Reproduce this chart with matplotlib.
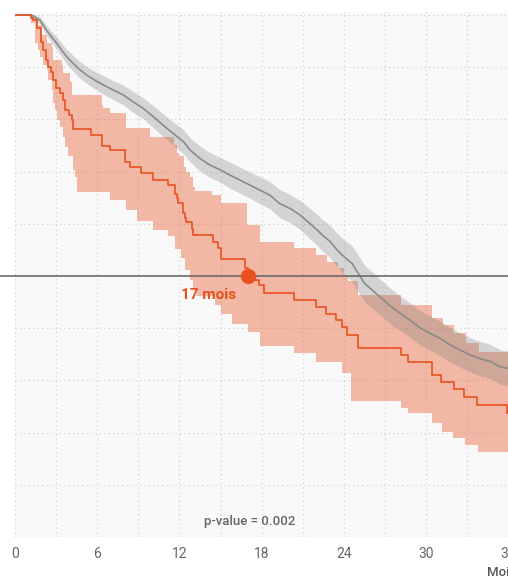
import matplotlib
matplotlib.use("Agg")
import matplotlib.pyplot as plt
import numpy as np

plt.rcParams['font.family'] = ['Roboto', 'DejaVu Sans']

# reference group (grey)
ref_t = [0, 1.2, 1.82, 2.19, 2.55, 3.04, 3.4, 3.77, 4.26, 4.74, 5.23, 5.84, 6.45, 7.18, 7.9,
         8.6, 9.36, 10.1, 10.8, 11.55, 12.3, 12.8, 13.5, 14.2, 15.0, 15.7, 16.4, 17.15, 17.9,
         18.6, 19.3, 20.1, 20.8, 21.5, 22.1, 22.4, 23.0, 23.5, 24.0, 24.6, 24.9, 25.2, 25.5,
         26.2, 26.9, 27.6, 28.3, 28.8, 29.6, 30.3, 31.0, 31.75, 32.5, 33.2, 33.9, 34.7, 35.4,
         36.0, 37.0]
ref_s = [1.0, 1.0, 0.990, 0.975, 0.962, 0.946, 0.933, 0.920, 0.907, 0.895, 0.885, 0.875, 0.866,
         0.856, 0.847, 0.834, 0.821, 0.805, 0.789, 0.773, 0.757, 0.741, 0.725, 0.713, 0.703,
         0.693, 0.684, 0.674, 0.664, 0.655, 0.639, 0.629, 0.617, 0.601, 0.587, 0.579, 0.566,
         0.550, 0.537, 0.524, 0.511, 0.499, 0.486, 0.470, 0.454, 0.438, 0.425, 0.416, 0.400,
         0.390, 0.381, 0.368, 0.358, 0.349, 0.342, 0.336, 0.326, 0.323, 0.320]
ref_hi = [1.0, 1.0, 0.997, 0.984, 0.972, 0.958, 0.946, 0.934, 0.922, 0.911, 0.901, 0.892, 0.884,
          0.874, 0.866, 0.854, 0.841, 0.826, 0.811, 0.795, 0.780, 0.764, 0.749, 0.737, 0.727,
          0.718, 0.709, 0.699, 0.690, 0.681, 0.666, 0.656, 0.645, 0.630, 0.617, 0.609, 0.597,
          0.582, 0.570, 0.558, 0.546, 0.534, 0.521, 0.505, 0.488, 0.472, 0.458, 0.449, 0.433,
          0.423, 0.414, 0.401, 0.391, 0.382, 0.375, 0.369, 0.359, 0.356, 0.353]
ref_lo = [1.0, 1.0, 0.983, 0.966, 0.952, 0.934, 0.920, 0.906, 0.892, 0.879, 0.869, 0.858, 0.848,
          0.838, 0.828, 0.814, 0.801, 0.784, 0.767, 0.751, 0.734, 0.718, 0.701, 0.689, 0.679,
          0.668, 0.659, 0.649, 0.638, 0.629, 0.612, 0.602, 0.589, 0.572, 0.557, 0.549, 0.535,
          0.518, 0.504, 0.490, 0.476, 0.464, 0.451, 0.435, 0.420, 0.404, 0.392, 0.383, 0.367,
          0.357, 0.348, 0.335, 0.325, 0.316, 0.309, 0.303, 0.293, 0.290, 0.287]

# study group (orange)
grp_t = [0, 1.2, 1.34, 1.58, 1.87, 2.07, 2.26, 2.43, 2.6, 2.8, 3.0, 3.28, 3.48, 3.65, 3.96, 4.14,
         4.26, 5.55, 6.33, 6.93, 8.03, 8.4, 9.2, 10.1, 11.15, 11.65, 11.8, 11.9, 12.25, 12.4,
         12.5, 12.9, 13.0, 14.45, 14.85, 15.0, 16.8, 17.0, 17.5, 17.8, 18.2, 20.35, 22.0, 22.7,
         23.45, 23.9, 24.25, 25.0, 28.15, 28.65, 30.45, 31.1, 32.05, 32.8, 33.75, 35.9, 37.0]
grp_s = [1.0, 0.995, 0.99, 0.975, 0.949, 0.933, 0.914, 0.901, 0.891, 0.875, 0.860, 0.850, 0.837,
         0.818, 0.808, 0.799, 0.782, 0.770, 0.750, 0.741, 0.719, 0.709, 0.698, 0.684, 0.675,
         0.658, 0.650, 0.639, 0.620, 0.611, 0.603, 0.590, 0.578, 0.566, 0.553, 0.532, 0.515,
         0.500, 0.492, 0.483, 0.467, 0.454, 0.441, 0.428, 0.416, 0.403, 0.387, 0.362, 0.349,
         0.336, 0.310, 0.296, 0.283, 0.268, 0.253, 0.238, 0.238]

grp_hi_t = [0, 1.5, 1.7, 1.95, 2.3, 2.68, 2.8, 3.4, 3.5, 4.0, 4.14, 6.33, 6.45, 6.93, 8.1, 9.85,
            11.6, 11.8, 12.0, 12.3, 12.5, 12.8, 13.0, 13.1, 14.4, 15.0, 16.9, 17.85, 20.35,
            22.0, 22.8, 23.55, 24.0, 24.3, 25.0, 28.15, 30.45, 31.2, 32.05, 32.9, 33.85, 37.0]
grp_hi = [1.0, 0.995, 0.981, 0.962, 0.946, 0.939, 0.914, 0.904, 0.888, 0.872, 0.847, 0.828,
          0.821, 0.812, 0.783, 0.767, 0.751, 0.735, 0.729, 0.709, 0.700, 0.690, 0.671, 0.662,
          0.655, 0.639, 0.598, 0.566, 0.553, 0.540, 0.527, 0.515, 0.502, 0.490, 0.464, 0.445,
          0.419, 0.406, 0.390, 0.371, 0.355, 0.355]

grp_lo_t = [0, 1.2, 1.46, 1.7, 1.82, 2.07, 2.3, 2.43, 2.68, 2.8, 2.9, 3.04, 3.28, 3.5, 3.65,
            3.9, 4.2, 4.4, 4.5, 6.9, 8.1, 8.9, 10.05, 11.15, 11.65, 12.1, 12.4, 12.8, 13.0, 13.3,
            14.6, 15.0, 15.8, 17.0, 17.9, 20.35, 21.95, 23.9, 24.55, 28.15, 28.65, 30.4, 31.15,
            32.0, 32.85, 33.8, 37.0]
grp_lo = [1.0, 0.984, 0.946, 0.933, 0.920, 0.904, 0.895, 0.875, 0.856, 0.831, 0.818, 0.799,
          0.786, 0.767, 0.748, 0.730, 0.703, 0.690, 0.660, 0.646, 0.626, 0.605, 0.588, 0.577,
          0.552, 0.535, 0.511, 0.492, 0.473, 0.462, 0.444, 0.428, 0.409, 0.392, 0.365, 0.353,
          0.335, 0.314, 0.260, 0.247, 0.237, 0.219, 0.202, 0.190, 0.176, 0.163, 0.163]

median_month = 17
median_label = "17 mois"
p_text = "p-value = 0.002"
xticks = [0, 6, 12, 18, 24, 30, 36]

orange = '#e8501e'

fig = plt.figure(figsize=(5.08, 5.77), dpi=100)
ax = fig.add_axes([15 / 508, 40 / 577, 507 / 508, 524.6 / 577])
ax.set_facecolor('#f9f9f9')

# orange confidence band: put both bounds on a shared grid of step points
grid = np.union1d(grp_hi_t, grp_lo_t)
hi_on_grid = [grp_hi[np.searchsorted(grp_hi_t, g, side='right') - 1] for g in grid]
lo_on_grid = [grp_lo[np.searchsorted(grp_lo_t, g, side='right') - 1] for g in grid]
ax.fill_between(grid, lo_on_grid, hi_on_grid, step='post', color=orange, alpha=0.38, lw=0)

ax.fill_between(ref_t, ref_lo, ref_hi, color='#808080', alpha=0.3, lw=0)
ax.plot(ref_t, ref_s, color='#8a8a8a', lw=1.2)
ax.plot(grp_t, grp_s, drawstyle='steps-post', color=orange, lw=1.2)

ax.axhline(0.5, xmin=-0.03, xmax=1.05, color='#6b6b6b', lw=1.2, clip_on=False, zorder=5)
ax.plot([median_month], [0.5], 'o', color=orange, ms=10, zorder=6)
ax.text(16.15, 0.464, median_label, color=orange, fontsize=11,
        fontweight='bold', ha='right', va='center')
ax.text(17.1, 0.03, p_text, color='#666666', fontsize=9.5, fontweight='medium',
        ha='center', va='center')

ax.set_xlim(0, 37)
ax.set_ylim(0, 1.005)
ax.set_xticks(xticks)
ax.set_xticks(range(0, 37, 3), minor=True)
ax.set_yticks([i / 10 for i in range(11)])
ax.set_yticklabels([])
ax.grid(True, which='both', color='#cccccc', linestyle=(0, (1, 3)), lw=0.8)
ax.set_axisbelow(True)
ax.tick_params(axis='x', which='both', length=0, pad=7, labelsize=10, labelcolor='#666666')
ax.tick_params(axis='y', which='both', length=0)
for sp in ax.spines.values():
    sp.set_visible(False)

fig.text(487 / 508, 5 / 577, "Mois", color='#555555', fontsize=9.5, fontweight='medium',
         ha='left', va='center')

fig.savefig('out.png', dpi=100)
